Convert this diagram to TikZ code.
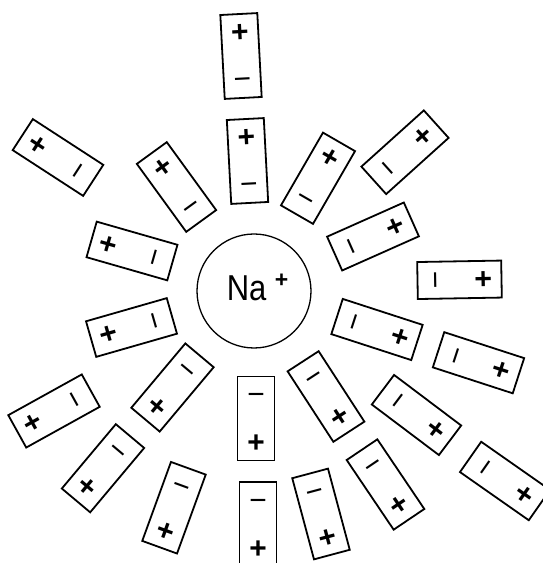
\documentclass[tikz,border=0pt]{standalone}
\usepackage{fontspec}
\setmainfont{Liberation Sans}
\usepackage{tikz}
\usetikzlibrary{positioning}
\definecolor{inkblk}{RGB}{0,0,0}
\tikzset{
  dip/.style={draw=inkblk, line width=1.8pt, rectangle, minimum width=37,
    minimum height=84, inner sep=0pt, transform shape},
  sgn/.style={inner sep=0pt, text=inkblk, font=\fontsize{30}{30}\selectfont,
    transform shape},
  ion/.style={draw=inkblk, line width=1.3pt, circle, minimum size=114,
    inner sep=0pt},
  ionlab/.style={inner sep=0pt, text=inkblk, anchor=base west},
}
% one water dipole: name, x, y, rotation
\newcommand{\dipole}[4]{%
  \begin{scope}[shift={(#2,#3)}, rotate=#4]
    \node[dip] (#1) at (0,0) {};
    \node[sgn, font=\fontsize{30}{30}\selectfont\bfseries] (#1p) at (0,23) {+};
    \node[sgn] (#1m) at (0,-28) {−};
  \end{scope}}

\begin{document}
\begin{tikzpicture}[x=1pt,y=1pt]
\useasboundingbox (0,0) rectangle (542,563);
\node[ion] (na) at (254,272) {};
\node[ionlab] (nalab) at (226.6,262)
  {\fontsize{36}{36}\selectfont\scalebox{0.86}[1]{Na}\hspace{8.5pt}%
   \raisebox{13pt}{\fontsize{23}{23}\selectfont\bfseries+}};
\dipole{wA}{241}{507}{3}
\dipole{wB}{247.5}{402}{3}
\dipole{wC}{58}{405.5}{57}
\dipole{wD}{176.5}{376}{36}
\dipole{wE}{132}{312}{74}
\dipole{wF}{131.5}{235.5}{106}
\dipole{wG}{54}{152}{119}
\dipole{wH}{172.5}{175.5}{140}
\dipole{wI}{103}{94.75}{140}
\dipole{wJ}{174}{55.25}{160}
\dipole{wK}{256}{144.5}{180}
\dipole{wL}{258}{39}{180}
\dipole{wM}{318}{384.75}{-30}
\dipole{wN}{405}{410.75}{-48}
\dipole{wO}{373}{326.5}{-66}
\dipole{wP}{459.5}{283.2}{-89}
\dipole{wQ}{377}{233.5}{-108}
\dipole{wR}{478.5}{200.25}{-108}
\dipole{wS}{326}{166.5}{-147}
\dipole{wT}{416.5}{148}{-127}
\dipole{wU}{385.5}{78.5}{-146}
\dipole{wV}{505}{82}{-125}
\dipole{wW}{321}{49}{-165}
\end{tikzpicture}
\end{document}
